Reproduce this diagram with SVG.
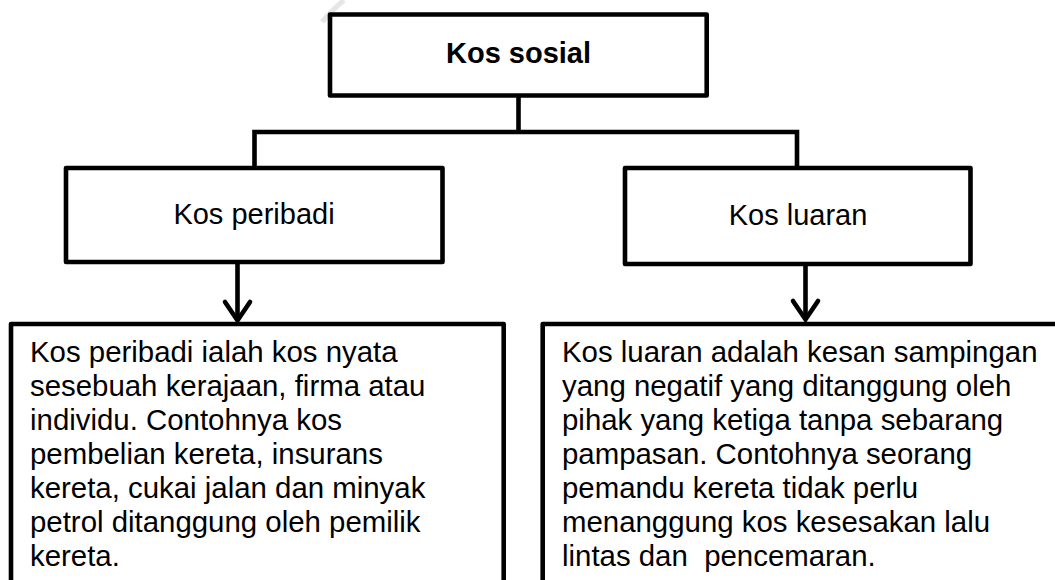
<svg xmlns="http://www.w3.org/2000/svg" width="1055" height="580" viewBox="0 0 1055 580">
  <style>
    .box { fill: #ffffff; stroke: #000000; stroke-width: 4.6; stroke-linejoin: round; }
    .line { fill: none; stroke: #000000; stroke-width: 4.6; stroke-linecap: butt; stroke-linejoin: miter; }
    .head { fill: none; stroke: #000000; stroke-width: 4.6; stroke-linecap: round; stroke-linejoin: miter; }
    .t { font-family: "Liberation Sans", Arial, sans-serif; font-size: 29px; fill: #000000; }
    .body { font-size: 29.4px; }
    .title { font-weight: bold; text-anchor: middle; }
    .mid { text-anchor: middle; }
  </style>
  <rect width="1055" height="580" fill="#ffffff"/>
  <path d="M 344 0 Q 330 12 322 22" fill="none" stroke="#e6e6e6" stroke-width="5"/>

  <g id="connectors">
    <path class="line" d="M 518.5 95.5 V 132"/>
    <path class="line" d="M 254.5 168 V 132 H 797 V 168"/>
    <path class="line" d="M 237.5 262 V 320"/>
    <path class="head" d="M 225 302 L 237.5 320.5 L 250 302"/>
    <path class="line" d="M 805.5 264 V 319"/>
    <path class="head" d="M 793 301 L 805.5 319.5 L 818 301"/>
  </g>

  <g id="node-kos-sosial">
    <rect class="box" x="330" y="14.5" width="376.7" height="81"/>
    <text class="t title" x="518.5" y="62.5">Kos sosial</text>
  </g>

  <g id="node-kos-peribadi">
    <rect class="box" x="66" y="168" width="376.5" height="94"/>
    <text class="t mid" x="254" y="224">Kos peribadi</text>
  </g>

  <g id="node-kos-luaran">
    <rect class="box" x="625" y="168" width="345.5" height="96"/>
    <text class="t mid" x="798" y="225">Kos luaran</text>
  </g>

  <g id="node-peribadi-desc">
    <rect class="box" x="11" y="324" width="492.7" height="270"/>
    <text class="t body" x="30">
      <tspan x="30" y="362">Kos peribadi ialah kos nyata</tspan>
      <tspan x="30" y="396">sesebuah kerajaan, firma atau</tspan>
      <tspan x="30" y="430">individu. Contohnya kos</tspan>
      <tspan x="30" y="464">pembelian kereta, insurans</tspan>
      <tspan x="30" y="498">kereta, cukai jalan dan minyak</tspan>
      <tspan x="30" y="532">petrol ditanggung oleh pemilik</tspan>
      <tspan x="30" y="565.5">kereta.</tspan>
    </text>
  </g>

  <g id="node-luaran-desc">
    <rect class="box" x="542.7" y="324" width="530" height="270"/>
    <text class="t body" x="562">
      <tspan x="562" y="362">Kos luaran adalah kesan sampingan</tspan>
      <tspan x="562" y="396">yang negatif yang ditanggung oleh</tspan>
      <tspan x="562" y="430">pihak yang ketiga tanpa sebarang</tspan>
      <tspan x="562" y="464">pampasan. Contohnya seorang</tspan>
      <tspan x="562" y="498">pemandu kereta tidak perlu</tspan>
      <tspan x="562" y="532">menanggung kos kesesakan lalu</tspan>
      <tspan x="562" y="565.5" xml:space="preserve">lintas dan  pencemaran.</tspan>
    </text>
  </g>
</svg>
